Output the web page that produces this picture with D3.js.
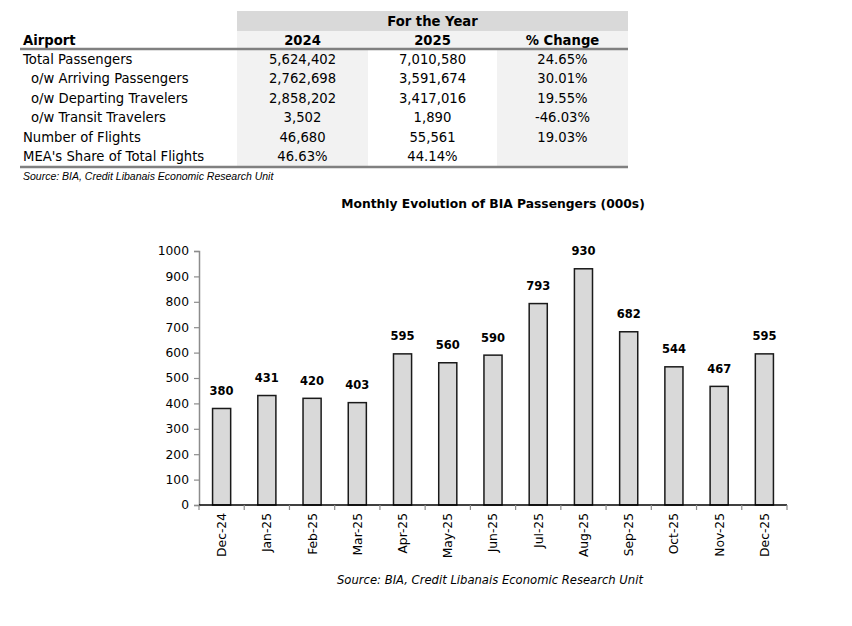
<!DOCTYPE html>
<html>
<head>
<meta charset="utf-8">
<script src="https://cdn.jsdelivr.net/npm/d3@7"></script>
<style>
  html, body { margin: 0; padding: 0; background: #fff; }
  svg { display: block; }
</style>
</head>
<body>
<svg id="chart" width="852" height="626"></svg>
<script>
// ---------- Table data ----------
const tableColumns = ["2024", "2025", "% Change"];
const rowLabels = [
  "Total Passengers",
  "o/w Arriving Passengers",
  "o/w Departing Travelers",
  "o/w Transit Travelers",
  "Number of Flights",
  "MEA's Share of Total Flights"
];
const values2024 = ["5,624,402", "2,762,698", "2,858,202", "3,502", "46,680", "46.63%"];
const values2025 = ["7,010,580", "3,591,674", "3,417,016", "1,890", "55,561", "44.14%"];
const pctChange  = ["24.65%", "30.01%", "19.55%", "-46.03%", "19.03%", ""];

// ---------- Chart data ----------
const months = ["Dec-24","Jan-25","Feb-25","Mar-25","Apr-25","May-25","Jun-25",
                "Jul-25","Aug-25","Sep-25","Oct-25","Nov-25","Dec-25"];
const passengers = [380, 431, 420, 403, 595, 560, 590, 793, 930, 682, 544, 467, 595];
const yTicks = [0,100,200,300,400,500,600,700,800,900,1000];

const chartTitle = "Monthly Evolution of BIA Passengers (000s)";
const chartSource = "Source: BIA, Credit Libanais Economic Research Unit";
const tableSource = "Source: BIA, Credit Libanais Economic Research Unit";

(function () {
const svg = d3.select("#chart");
const FONT = "'DejaVu Sans', Verdana, sans-serif";

// ================= TABLE =================
const colX = [237, 368, 497, 628];
const tableLeft = 20;
const rowY0 = 64, rowStep = 19.4;
const tableG = svg.append("g").attr("font-family", FONT).attr("font-size", 13.2).attr("fill", "#000");

tableG.append("rect").attr("x", colX[0]).attr("y", 49).attr("width", colX[1]-colX[0]).attr("height", 118).attr("fill", "#f2f2f2");
tableG.append("rect").attr("x", colX[2]).attr("y", 49).attr("width", colX[3]-colX[2]).attr("height", 118).attr("fill", "#f2f2f2");
tableG.append("rect").attr("x", colX[0]).attr("y", 11).attr("width", colX[3]-colX[0]).attr("height", 20).attr("fill", "#d9d9d9");
tableG.append("rect").attr("x", colX[0]).attr("y", 31).attr("width", colX[3]-colX[0]).attr("height", 17).attr("fill", "#f2f2f2");

tableG.append("text").attr("x", (colX[0]+colX[3])/2).attr("y", 26)
  .attr("text-anchor", "middle").attr("font-weight", "bold").text("For the Year");
tableG.append("text").attr("x", 23).attr("y", 45).attr("font-weight", "bold").text("Airport");
tableG.selectAll("text.colhead").data(tableColumns).join("text").attr("class", "colhead")
  .attr("x", (d,i) => (colX[i]+colX[i+1])/2).attr("y", 45)
  .attr("text-anchor", "middle").attr("font-weight", "bold").text(d => d);

tableG.append("line").attr("x1", tableLeft).attr("x2", colX[3]).attr("y1", 49).attr("y2", 49)
  .attr("stroke", "#808080").attr("stroke-width", 2.5);
tableG.append("line").attr("x1", tableLeft).attr("x2", colX[3]).attr("y1", 167).attr("y2", 167)
  .attr("stroke", "#808080").attr("stroke-width", 2.5);

rowLabels.forEach((lab, i) => {
  const yy = rowY0 + i*rowStep;
  tableG.append("text").attr("x", lab.startsWith("o/w") ? 31 : 23).attr("y", yy).text(lab);
  [values2024[i], values2025[i], pctChange[i]].forEach((v, j) => {
    tableG.append("text").attr("x", (colX[j]+colX[j+1])/2).attr("y", yy)
      .attr("text-anchor", "middle").text(v);
  });
});

svg.append("text").attr("x", 23).attr("y", 180)
  .attr("font-family", "'Liberation Sans', Arial, sans-serif").attr("font-size", 10.5)
  .attr("font-style", "italic").attr("fill", "#000").text(tableSource);

// ================= CHART =================
const pLeft = 199, pRight = 787, pTop = 251, pBottom = 505;
const x = d3.scaleBand().domain(months).range([pLeft, pRight]).paddingInner(0.6).paddingOuter(0.3);
const xb = d3.scaleBand().domain(months).range([pLeft, pRight]).padding(0);
const y = d3.scaleLinear().domain([0, 1000]).range([pBottom, pTop]);

svg.append("text").attr("x", 493).attr("y", 208).attr("text-anchor", "middle")
  .attr("font-family", FONT).attr("font-size", 12.3).attr("font-weight", "bold").attr("fill", "#000")
  .text(chartTitle);

const yAxis = svg.append("g").attr("transform", `translate(${pLeft},0)`)
  .call(d3.axisLeft(y).tickValues(yTicks).tickFormat(d3.format("d")).tickSize(5).tickPadding(5));
yAxis.select(".domain").attr("stroke", "#8c8c8c").attr("stroke-width", 1.5);
yAxis.selectAll(".tick line").attr("stroke", "#8c8c8c").attr("stroke-width", 1.2);
yAxis.selectAll(".tick text").attr("font-family", FONT).attr("font-size", 12.3).attr("fill", "#000");

svg.append("g").selectAll("rect").data(passengers).join("rect")
  .attr("x", (d,i) => x(months[i]))
  .attr("y", d => y(d))
  .attr("width", x.bandwidth())
  .attr("height", d => pBottom - y(d))
  .attr("fill", "#d9d9d9")
  .attr("stroke", "#1a1a1a")
  .attr("stroke-width", 1.5);

svg.append("line").attr("x1", pLeft).attr("x2", pRight).attr("y1", pBottom).attr("y2", pBottom)
  .attr("stroke", "#000").attr("stroke-width", 1.5);
const bounds = months.map(m => xb(m)).concat([pRight]);
svg.append("g").selectAll("line").data(bounds).join("line")
  .attr("x1", d => d).attr("x2", d => d).attr("y1", pBottom).attr("y2", pBottom + 5)
  .attr("stroke", "#8c8c8c").attr("stroke-width", 1.2);

svg.append("g").selectAll("text").data(months).join("text")
  .attr("transform", d => `translate(${x(d) + x.bandwidth()/2},${pBottom + 8}) rotate(-90)`)
  .attr("text-anchor", "end").attr("dy", "0.36em")
  .attr("font-family", FONT).attr("font-size", 12.3).attr("fill", "#000")
  .text(d => d);

svg.append("g").selectAll("text").data(passengers).join("text")
  .attr("x", (d,i) => x(months[i]) + x.bandwidth()/2)
  .attr("y", d => y(d) - 13.5)
  .attr("text-anchor", "middle")
  .attr("font-family", FONT).attr("font-size", 11.5).attr("font-weight", "bold").attr("fill", "#000")
  .text(d => d);

svg.append("text").attr("x", 490).attr("y", 584).attr("text-anchor", "middle")
  .attr("font-family", FONT).attr("font-size", 11.6).attr("font-style", "italic").attr("fill", "#000")
  .text(chartSource);
})();
</script>
</body>
</html>
